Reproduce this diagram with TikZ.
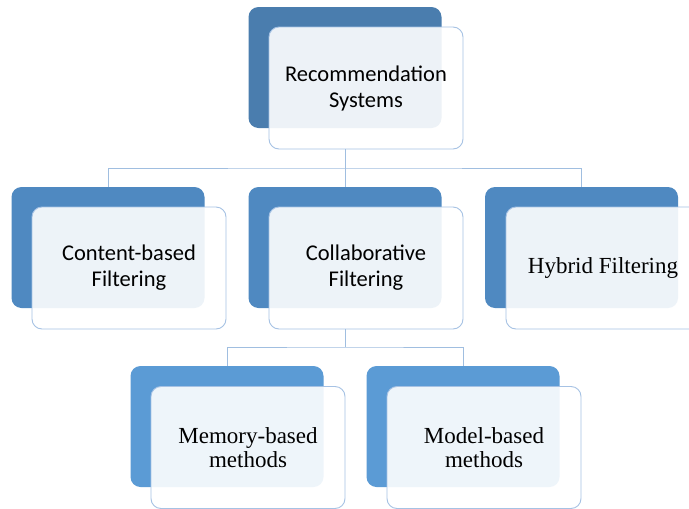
\documentclass[tikz,border=0pt]{standalone}
\usepackage{fontspec}
\setmainfont{Liberation Serif}
\newfontfamily\calib{Carlito}
\definecolor{topblue}{HTML}{4A7DAE}
\definecolor{midblue}{HTML}{4F89C1}
\definecolor{lowblue}{HTML}{5B9BD5}
\definecolor{frontline}{HTML}{A6C2E4}
\definecolor{linkc}{HTML}{A0BEE0}
\begin{document}
\begin{tikzpicture}[x=1pt,y=-1pt,
  backbox/.style={rounded corners=10pt, minimum width=193pt, minimum height=121pt, inner sep=0pt, outer sep=0pt},
  frontbox/.style={rounded corners=10pt, minimum width=194pt, minimum height=122pt, fill=white, fill opacity=0.9, text opacity=1, draw=frontline, line width=0.9pt, align=center, inner sep=0pt, outer sep=0pt},
  sanslabel/.style={font=\calib\fontsize{22.5}{26}\selectfont},
  seriflabel/.style={font=\fontsize{23}{24}\selectfont},
  link/.style={draw=linkc, line width=0.9pt}]
\clip (0,0) rectangle (689,509);
\fill[white] (0,0) rectangle (689,509);
% coordinates for connector junctions
\coordinate (j1) at (345,168);
\coordinate (j2) at (345,347);
% back boxes
\node[backbox, fill=topblue] (rsB) at (345,67.5) {};
\node[backbox, fill=midblue] (cbB) at (108,247.5) {};
\node[backbox, fill=midblue] (coB) at (345,247.5) {};
\node[backbox, fill=midblue] (hyB) at (581.5,247.5) {};
\node[backbox, fill=lowblue] (meB) at (227,426.5) {};
\node[backbox, fill=lowblue] (moB) at (463,426.5) {};
% front boxes
\node[frontbox, sanslabel] (rsF) at (366,88) {Recommendation\\Systems};
\node[frontbox, sanslabel] (cbF) at (129,268) {Content-based\\Filtering};
\node[frontbox, sanslabel] (coF) at (366,268) {Collaborative\\Filtering};
\node[frontbox, seriflabel] (hyF) at (603,268) {Hybrid Filtering};
\node[frontbox, seriflabel] (meF) at (248,447.5) {Memory-based\\methods};
\node[frontbox, seriflabel] (moF) at (484,447.5) {Model-based\\methods};
% connectors
\draw[link] (rsB.center |- rsF.south) -- (j1);
\draw[link] (cbB.north) |- (j1) -| (hyB.north);
\draw[link] (j1) -- (coB.north);
\draw[link] (coB.center |- coF.south) -- (j2);
\draw[link] (meB.north) |- (j2) -| (moB.north);
\end{tikzpicture}
\end{document}
